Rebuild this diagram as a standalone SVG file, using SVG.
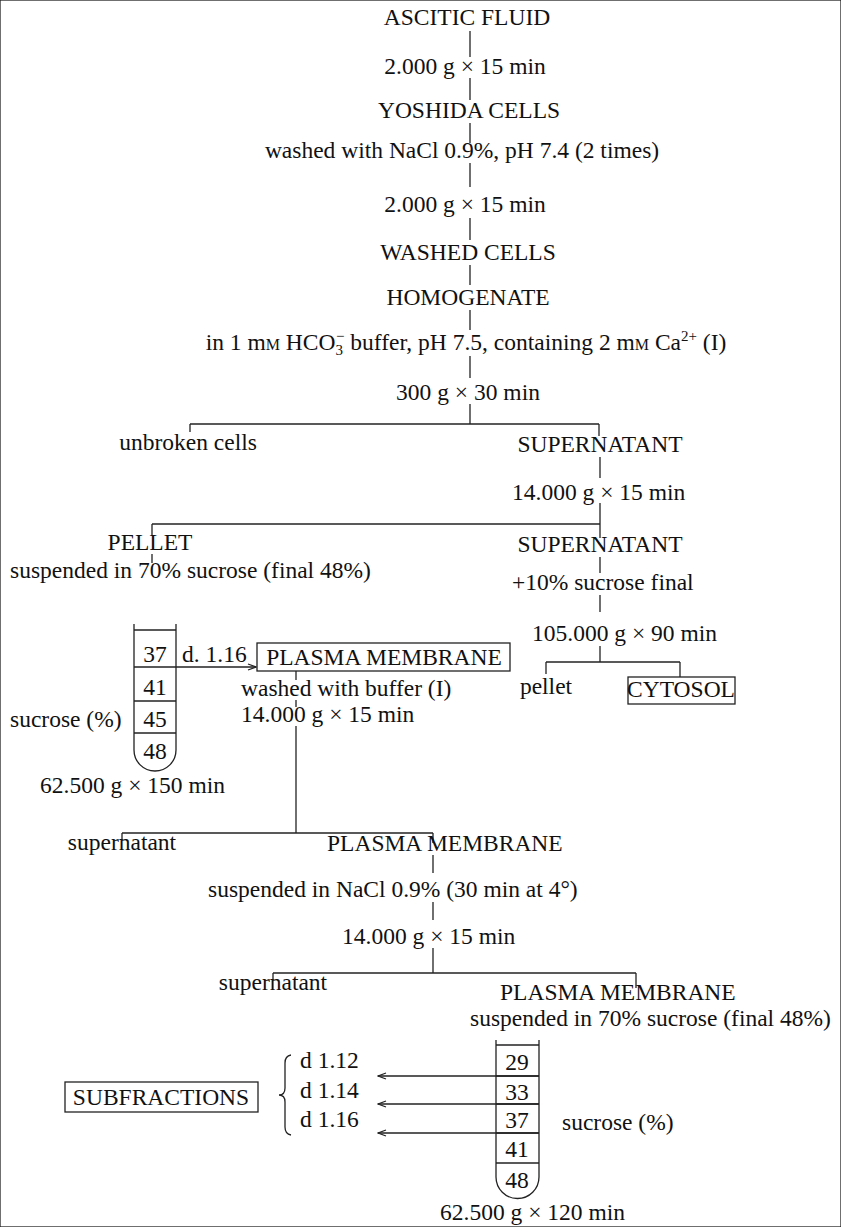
<svg xmlns="http://www.w3.org/2000/svg" width="841" height="1227" viewBox="0 0 841 1227">
<defs>
<style>
text{font-family:"Liberation Serif","Times New Roman",serif;font-size:23.5px;fill:#111}
.m{text-anchor:middle}
.e{text-anchor:end}
.sc{font-size:16px}
.sub{font-size:15px}
line,path,rect{stroke:#222;stroke-width:1.3;fill:none}
</style>
<marker id="ah" markerWidth="10" markerHeight="8" refX="9" refY="4" orient="auto" markerUnits="userSpaceOnUse">
<path d="M1,1 L9,4 L1,7" stroke="#222" stroke-width="1.2" fill="none"/>
</marker>
</defs>
<rect x="0" y="0" width="841" height="1227" fill="#fff" stroke="none"/>

<g id="connectors">
<line x1="470" y1="31" x2="470" y2="57"/>
<line x1="470" y1="78" x2="470" y2="100"/>
<line x1="470" y1="123" x2="470" y2="143"/>
<line x1="470" y1="163" x2="470" y2="187"/>
<line x1="470" y1="218" x2="470" y2="240"/>
<line x1="470" y1="265" x2="470" y2="285"/>
<line x1="470" y1="310" x2="470" y2="330"/>
<line x1="470" y1="356" x2="470" y2="378"/>
<line x1="470" y1="404" x2="470" y2="424"/>
<line x1="190" y1="424" x2="599" y2="424"/>
<line x1="190" y1="424" x2="190" y2="432"/>
<line x1="599" y1="424" x2="599" y2="436"/>
<line x1="600" y1="457" x2="600" y2="478"/>
<line x1="600" y1="503" x2="600" y2="524"/>
<line x1="152" y1="524" x2="600" y2="524"/>
<line x1="152" y1="524" x2="152" y2="535"/>
<line x1="600" y1="524" x2="600" y2="538"/>
<line x1="152" y1="554" x2="152" y2="563"/>
<line x1="600" y1="557" x2="600" y2="573"/>
<line x1="600" y1="595" x2="600" y2="612"/>
<line x1="600" y1="646" x2="600" y2="662"/>
<line x1="546" y1="662" x2="680" y2="662"/>
<line x1="546" y1="662" x2="546" y2="674"/>
<line x1="680" y1="662" x2="680" y2="677"/>
<line x1="176" y1="667" x2="256" y2="667" marker-end="url(#ah)"/>
<line x1="296" y1="671" x2="296" y2="680"/>
<line x1="296" y1="700" x2="296" y2="707"/>
<line x1="296" y1="726" x2="296" y2="833"/>
<line x1="122" y1="833" x2="433" y2="833"/>
<line x1="122" y1="833" x2="122" y2="840"/>
<line x1="433" y1="833" x2="433" y2="843"/>
<line x1="433" y1="855" x2="433" y2="873"/>
<line x1="433" y1="902" x2="433" y2="920"/>
<line x1="433" y1="948" x2="433" y2="973"/>
<line x1="273" y1="973" x2="636" y2="973"/>
<line x1="273" y1="973" x2="273" y2="980"/>
<line x1="636" y1="973" x2="636" y2="988"/>
<line x1="539" y1="1076" x2="378" y2="1076" marker-end="url(#ah)"/>
<line x1="539" y1="1104" x2="378" y2="1104" marker-end="url(#ah)"/>
<line x1="539" y1="1133" x2="378" y2="1133" marker-end="url(#ah)"/>
<path d="M291,1055 Q285,1056 285,1063 L285,1088 Q285,1095 279,1095 Q285,1095 285,1102 L285,1127 Q285,1134 291,1135"/>
</g>

<g id="ascitic-fluid"><text class="m" x="467" y="25">ASCITIC FLUID</text></g>
<g id="spin1"><text class="m" x="465" y="74">2.000 g × 15 min</text></g>
<g id="yoshida-cells"><text class="m" x="469" y="118">YOSHIDA CELLS</text></g>
<g id="wash"><text class="m" x="462" y="158">washed with NaCl 0.9%, pH 7.4 (2 times)</text></g>
<g id="spin2"><text class="m" x="465" y="212">2.000 g × 15 min</text></g>
<g id="washed-cells"><text class="m" x="468" y="260">WASHED CELLS</text></g>
<g id="homogenate"><text class="m" x="468" y="305">HOMOGENATE</text></g>
<g id="buffer"><text class="m" x="466" y="350">in 1 m<tspan class="sc">M</tspan> HCO<tspan class="sub" dy="5">3</tspan><tspan class="sub" dx="-7" dy="-14">−</tspan><tspan dy="9"> buffer, pH 7.5, containing 2 m</tspan><tspan class="sc">M</tspan> Ca<tspan class="sub" dy="-9">2+</tspan><tspan dy="9"> (I)</tspan></text></g>
<g id="spin3"><text class="m" x="468" y="400">300 g × 30 min</text></g>
<g id="unbroken-cells"><text class="m" x="188" y="450">unbroken cells</text></g>
<g id="supernatant1"><text class="m" x="600" y="452">SUPERNATANT</text></g>
<g id="spin4"><text x="512" y="500">14.000 g × 15 min</text></g>
<g id="pellet1"><text class="m" x="150" y="550">PELLET</text></g>
<g id="supernatant2"><text class="m" x="600" y="552">SUPERNATANT</text></g>
<g id="suspend1"><text x="10" y="578">suspended in 70% sucrose (final 48%)</text></g>
<g id="sucrose-final"><text x="512" y="590">+10% sucrose final</text></g>
<g id="spin5"><text x="532" y="641">105.000 g × 90 min</text></g>
<g id="pellet2"><text class="m" x="546" y="694">pellet</text></g>
<g id="cytosol"><rect x="628" y="677" width="107" height="27"/><text class="m" x="681" y="697">CYTOSOL</text></g>

<g id="tube1">
<path d="M134,624 L134,750 A21,21 0 0 0 176,750 L176,624"/>
<line x1="134" y1="630" x2="176" y2="630"/>
<line x1="134" y1="667" x2="176" y2="667"/>
<line x1="134" y1="701" x2="176" y2="701"/>
<line x1="134" y1="733" x2="176" y2="733"/>
<text class="m" x="155" y="662">37</text>
<text class="m" x="155" y="695">41</text>
<text class="m" x="155" y="727">45</text>
<text class="m" x="155" y="759">48</text>
</g>
<g id="sucrose1"><text x="10" y="727">sucrose (%)</text></g>
<g id="spin6"><text class="e" x="225" y="793">62.500 g × 150 min</text></g>
<g id="d116a"><text x="182" y="662">d. 1.16</text></g>
<g id="plasma-membrane1"><rect x="257" y="643" width="253" height="28"/><text class="m" x="384" y="665">PLASMA MEMBRANE</text></g>
<g id="wash-buffer"><text x="241" y="696">washed with buffer (I)</text></g>
<g id="spin7"><text x="241" y="722">14.000 g × 15 min</text></g>
<g id="supernatant3"><text class="m" x="122" y="850">supernatant</text></g>
<g id="plasma-membrane2"><text x="327" y="851">PLASMA MEMBRANE</text></g>
<g id="suspend-nacl"><text x="208" y="897">suspended in NaCl 0.9% (30 min at 4°)</text></g>
<g id="spin8"><text x="342" y="944">14.000 g × 15 min</text></g>
<g id="supernatant4"><text class="m" x="273" y="990">supernatant</text></g>
<g id="plasma-membrane3"><text x="500" y="1000">PLASMA MEMBRANE</text><text x="470" y="1026">suspended in 70% sucrose (final 48%)</text></g>

<g id="tube2">
<path d="M496,1040 L496,1177 A21.5,21.5 0 0 0 539,1177 L539,1040"/>
<line x1="496" y1="1045" x2="539" y2="1045"/>
<line x1="496" y1="1076" x2="539" y2="1076"/>
<line x1="496" y1="1104" x2="539" y2="1104"/>
<line x1="496" y1="1133" x2="539" y2="1133"/>
<line x1="496" y1="1163" x2="539" y2="1163"/>
<text class="m" x="517" y="1070">29</text>
<text class="m" x="517" y="1100">33</text>
<text class="m" x="517" y="1128">37</text>
<text class="m" x="517" y="1157">41</text>
<text class="m" x="517" y="1188">48</text>
</g>
<g id="sucrose2"><text x="562" y="1130">sucrose (%)</text></g>
<g id="spin9"><text x="440" y="1220">62.500 g × 120 min</text></g>
<g id="subfractions"><rect x="65" y="1082" width="193" height="30"/><text class="m" x="161" y="1105">SUBFRACTIONS</text></g>
<g id="d112"><text x="300" y="1068">d 1.12</text></g>
<g id="d114"><text x="300" y="1098">d 1.14</text></g>
<g id="d116b"><text x="300" y="1127">d 1.16</text></g>
</svg>
